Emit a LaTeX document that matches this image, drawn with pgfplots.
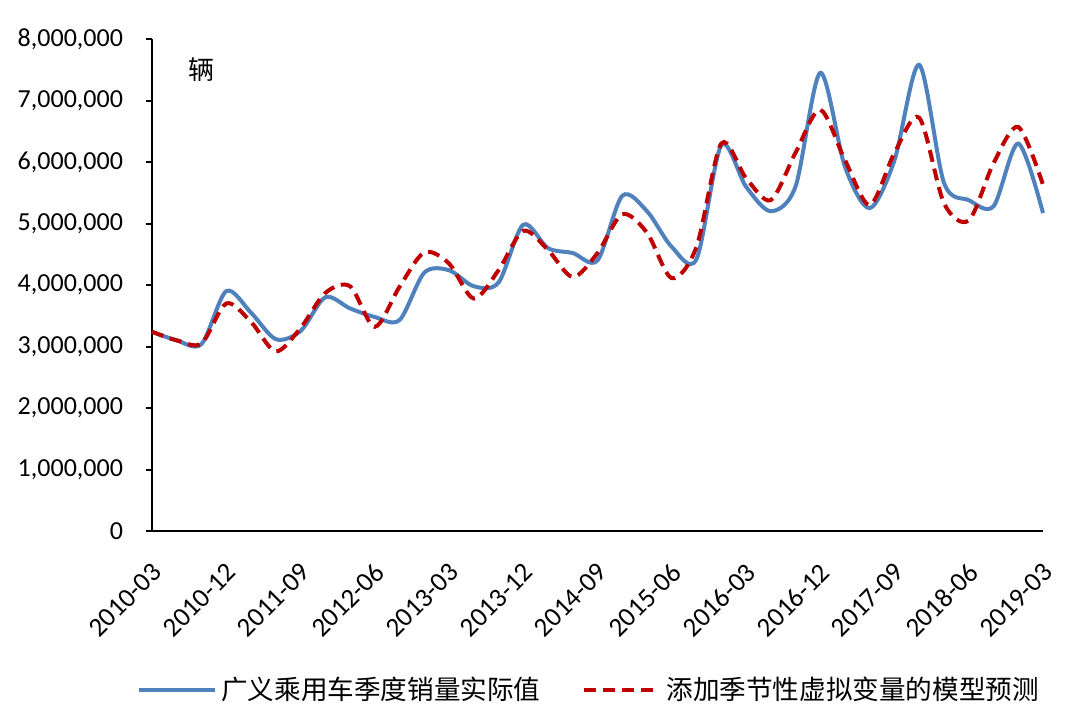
\documentclass[border=0pt]{standalone}
\usepackage{pgfplots}
\pgfplotsset{compat=1.18}
\usepackage{pgfplotstable}
\usepackage{fontspec}
\setmainfont{Carlito}
\newfontfamily\cjk{Noto Sans CJK SC}
\definecolor{blueline}{HTML}{4F81BD}
\definecolor{redline}{HTML}{C00000}

\pgfplotstableread{
x actual model
0  3240000 3240000
1  3100000 3100000
2  3040000 3050000
3  3900000 3700000
4  3550000 3400000
5  3120000 2920000
6  3250000 3300000
7  3800000 3870000
8  3620000 3980000
9  3480000 3320000
10 3430000 3970000
11 4200000 4530000
12 4240000 4350000
13 3980000 3780000
14 4040000 4240000
15 4980000 4880000
16 4600000 4570000
17 4520000 4130000
18 4400000 4520000
19 5450000 5150000
20 5200000 4850000
21 4620000 4110000
22 4420000 4620000
23 6270000 6300000
24 5600000 5740000
25 5200000 5380000
26 5600000 6150000
27 7450000 6850000
28 5920000 6030000
29 5250000 5300000
30 6030000 6150000
31 7580000 6720000
32 5660000 5330000
33 5380000 5050000
34 5280000 5980000
35 6300000 6570000
36 5170000 5630000
}\datatable

\begin{document}
\begin{tikzpicture}
\begin{axis}[
  scale only axis,
  width=445.5pt, height=246pt,
  at={(0,0)}, anchor=south west,
  xmin=0, xmax=36, ymin=0, ymax=8000000,
  enlargelimits=false,
  clip=false,
  axis x line*=bottom, axis y line*=left,
  axis line style={line width=1pt, black, -},
  xtick={0,3,...,36},
  xticklabels={2010-03,2010-12,2011-09,2012-06,2013-03,2013-12,2014-09,2015-06,2016-03,2016-12,2017-09,2018-06,2019-03},
  xtick style={draw=none},
  xticklabel style={font=\fontsize{13.5pt}{15pt}\selectfont, yshift=-13pt, xshift=5pt, rotate=45, anchor=east},
  ytick={0,1000000,2000000,3000000,4000000,5000000,6000000,7000000,8000000},
  scaled y ticks=false,
  /pgf/number format/fixed,
  /pgf/number format/1000 sep={,},
  /pgf/number format/assume math mode=true,
  yticklabel style={font=\fontsize{13pt}{15pt}\selectfont, xshift=-8pt},
  tick align=outside,
  major tick length=3pt,
  ytick style={line width=1pt, black},
  legend style={at={(0.4916,-0.323)}, anchor=center, draw=none, fill=none,
    legend columns=2, font=\cjk\fontsize{13.3pt}{16pt}\selectfont,
    /tikz/every even column/.append style={column sep=19pt},
    legend cell align=left},
  legend image code/.code={\draw[#1] (0pt,0pt) -- (38pt,0pt);},
]
\addplot[color=blueline, line width=2pt, smooth, tension=0.5] table[x=x, y=actual] {\datatable};
\addlegendentry{广义乘用车季度销量实际值}
\addplot[color=redline, line width=2pt, dash pattern=on 6pt off 3.5pt, smooth, tension=0.5] table[x=x, y=model] {\datatable};
\addlegendentry{添加季节性虚拟变量的模型预测}
\node[font=\cjk\fontsize{13pt}{15pt}\selectfont] at (rel axis cs:0.056,0.937) {辆};
\end{axis}
\pgfresetboundingbox
\path (-76pt,-96pt) rectangle (464pt,265.5pt);
\end{tikzpicture}
\end{document}
